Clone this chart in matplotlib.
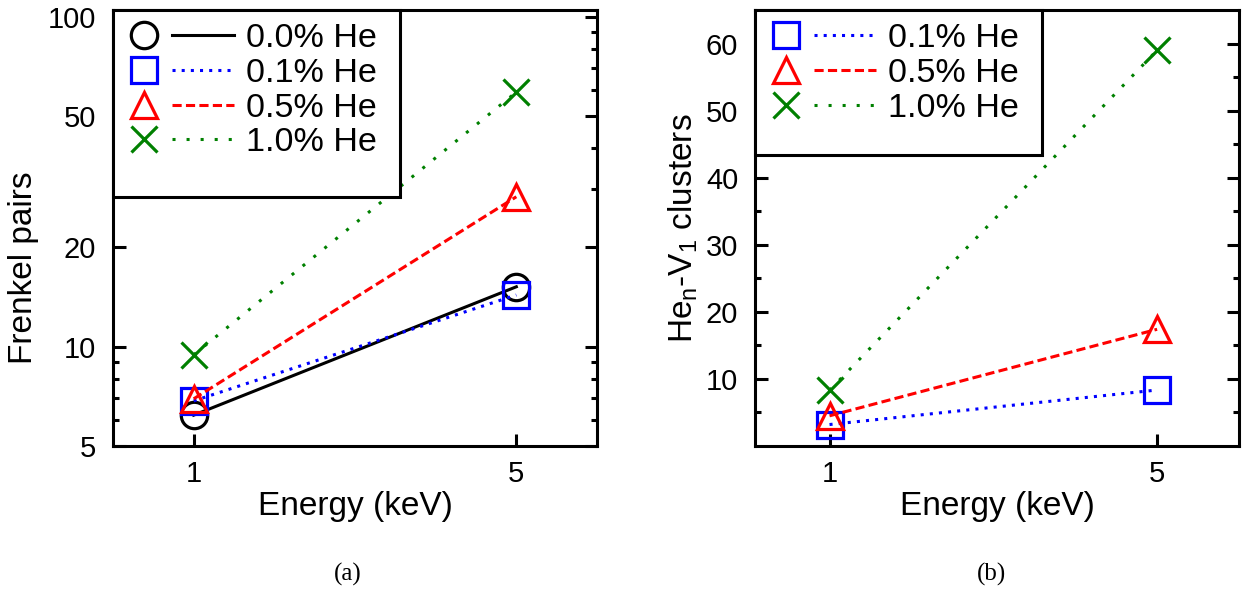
import matplotlib
matplotlib.use("Agg")
import matplotlib.pyplot as plt
from matplotlib.lines import Line2D
from matplotlib.legend_handler import HandlerBase
from matplotlib.patches import Rectangle

plt.rcParams['font.family'] = ['Liberation Sans', 'DejaVu Sans']
plt.rcParams['mathtext.fontset'] = 'custom'
plt.rcParams['mathtext.rm'] = 'Liberation Sans'
plt.rcParams['mathtext.it'] = 'Liberation Sans'

# ---------------- data ----------------
energy = [1, 5]
energy_ticks = [1, 5]

# (a) Frenkel pairs
fp_labels = ['0.0% He', '0.1% He', '0.5% He', '1.0% He']
fp_00 = [6.2, 15.2]
fp_01 = [6.85, 14.35]
fp_05 = [6.95, 28.5]
fp_10 = [9.45, 59.2]

# (b) He_n-V_1 clusters
cl_labels = ['0.1% He', '0.5% He', '1.0% He']
cl_01 = [3.2, 8.35]
cl_05 = [4.5, 17.4]
cl_10 = [8.3, 59.0]

fp_yticks = [5, 10, 20, 50, 100]
fp_yminor = [6, 7, 8, 9, 30, 40, 60, 70, 80, 90]
cl_yticks = [10, 20, 30, 40, 50, 60]
cl_yminor = [5, 15, 25, 35, 45, 55]

# ---------------- styles ----------------
LW = 2.2
MS = 19
MEW = 2.3
TICKFS = 21
styles = {
    '0.0% He': dict(color='black', marker='o', ls='-'),
    '0.1% He': dict(color='blue', marker='s', ls=(0, (1, 2))),
    '0.5% He': dict(color='red', marker='^', ls=(0, (3, 1.4))),
    '1.0% He': dict(color='green', marker='x', ls=(0, (1, 3.6))),
}

W, H = 1242, 590
fig = plt.figure(figsize=(W / 100, H / 100), dpi=100)

def axpos(l, r, t, b):
    return [l / W, 1 - b / H, (r - l) / W, (b - t) / H]

axA = fig.add_axes(axpos(113, 597, 10, 446))
axB = fig.add_axes(axpos(755, 1239, 10, 446))


class Key:
    def __init__(self, d):
        self.d = d


class KeyHandler(HandlerBase):
    def create_artists(self, legend, orig_handle, xdescent, ydescent,
                       width, height, fontsize, trans):
        st = orig_handle.d
        y = height / 2 - ydescent
        x0 = -xdescent
        mk = Line2D([x0 + width * 0.164], [y], color=st['color'], marker=st['marker'],
                    ls='none', ms=MS, mew=MEW, mfc='none', transform=trans)
        ln = Line2D([x0 + width * 0.43, x0 + width], [y, y], color=st['color'],
                    ls=st['ls'], lw=LW, transform=trans)
        return [ln, mk]


def plot_series(ax, label, ys):
    st = styles[label]
    ax.plot(energy, ys, color=st['color'], ls=st['ls'], lw=LW, marker=st['marker'],
            ms=MS, mew=MEW, mfc='none', label=label, clip_on=False)


def style_axes(ax, yticks):
    ax.set_xlim(0 if ax is axA else 0.09, 6)
    ax.set_xticks(energy_ticks)
    ax.set_xticklabels([str(e) for e in energy_ticks], fontsize=TICKFS)
    ax.set_yticks(yticks)
    ax.set_yticklabels([str(v) for v in yticks], fontsize=TICKFS)
    ax.tick_params(axis='both', which='both', direction='in', top=False, right=True,
                   width=2.2)
    ax.tick_params(axis='both', which='major', length=9)
    ax.tick_params(axis='both', which='minor', length=4.5)
    ax.tick_params(axis='y', which='both', pad=12)
    ax.tick_params(axis='x', which='both', pad=10)
    for s in ax.spines.values():
        s.set_linewidth(2.2)
    ax.set_xlabel('Energy (keV)', fontsize=24)
    ax.xaxis.set_label_coords(0.5, -0.104)


def add_legend(ax, labels, frame_bottom_px):
    yb = (446 - frame_bottom_px) / 436
    rect = Rectangle((0, yb), (400 - 113) / 484, 1.0 - yb, transform=ax.transAxes,
                     facecolor='white', edgecolor='black', lw=2.2, zorder=4, clip_on=False)
    ax.add_patch(rect)
    handles = [Key(styles[l]) for l in labels]
    leg = ax.legend(handles, labels, handler_map={Key: KeyHandler()},
                    loc='upper left', bbox_to_anchor=((126 - 113) / 484, (446 - 23) / 436),
                    bbox_transform=ax.transAxes, frameon=False, borderpad=0,
                    borderaxespad=0, handlelength=3.15, handletextpad=0.35,
                    labelspacing=0.11, fontsize=24.6)
    leg.set_zorder(5)


# ---- panel (a)
for lab, ys in zip(fp_labels, [fp_00, fp_01, fp_05, fp_10]):
    plot_series(axA, lab, ys)
axA.set_yscale('log')
axA.set_ylim(5, 105)
style_axes(axA, fp_yticks)
axA.set_yticks(fp_yminor, minor=True)
axA.set_yticklabels([], minor=True)
axA.set_ylabel('Frenkel pairs', fontsize=24)
axA.yaxis.set_label_coords(-0.153, 0.41)
add_legend(axA, fp_labels, 197)

# ---- panel (b)
for lab, ys in zip(cl_labels, [cl_01, cl_05, cl_10]):
    plot_series(axB, lab, ys)
axB.set_ylim(0, 65)
style_axes(axB, cl_yticks)
axB.set_yticks(cl_yminor, minor=True)
axB.set_ylabel(r'He$_{\mathrm{n}}$-V$_{\mathrm{1}}$ clusters', fontsize=24)
axB.yaxis.set_label_coords(-0.114, 0.5)
add_legend(axB, cl_labels, 155)

fig.text(348 / W, 1 - 574 / H, '(a)', ha='center', va='center',
         family=['Liberation Serif'], fontsize=18)
fig.text(992 / W, 1 - 574 / H, '(b)', ha='center', va='center',
         family=['Liberation Serif'], fontsize=18)

fig.savefig('out.png', dpi=100)
